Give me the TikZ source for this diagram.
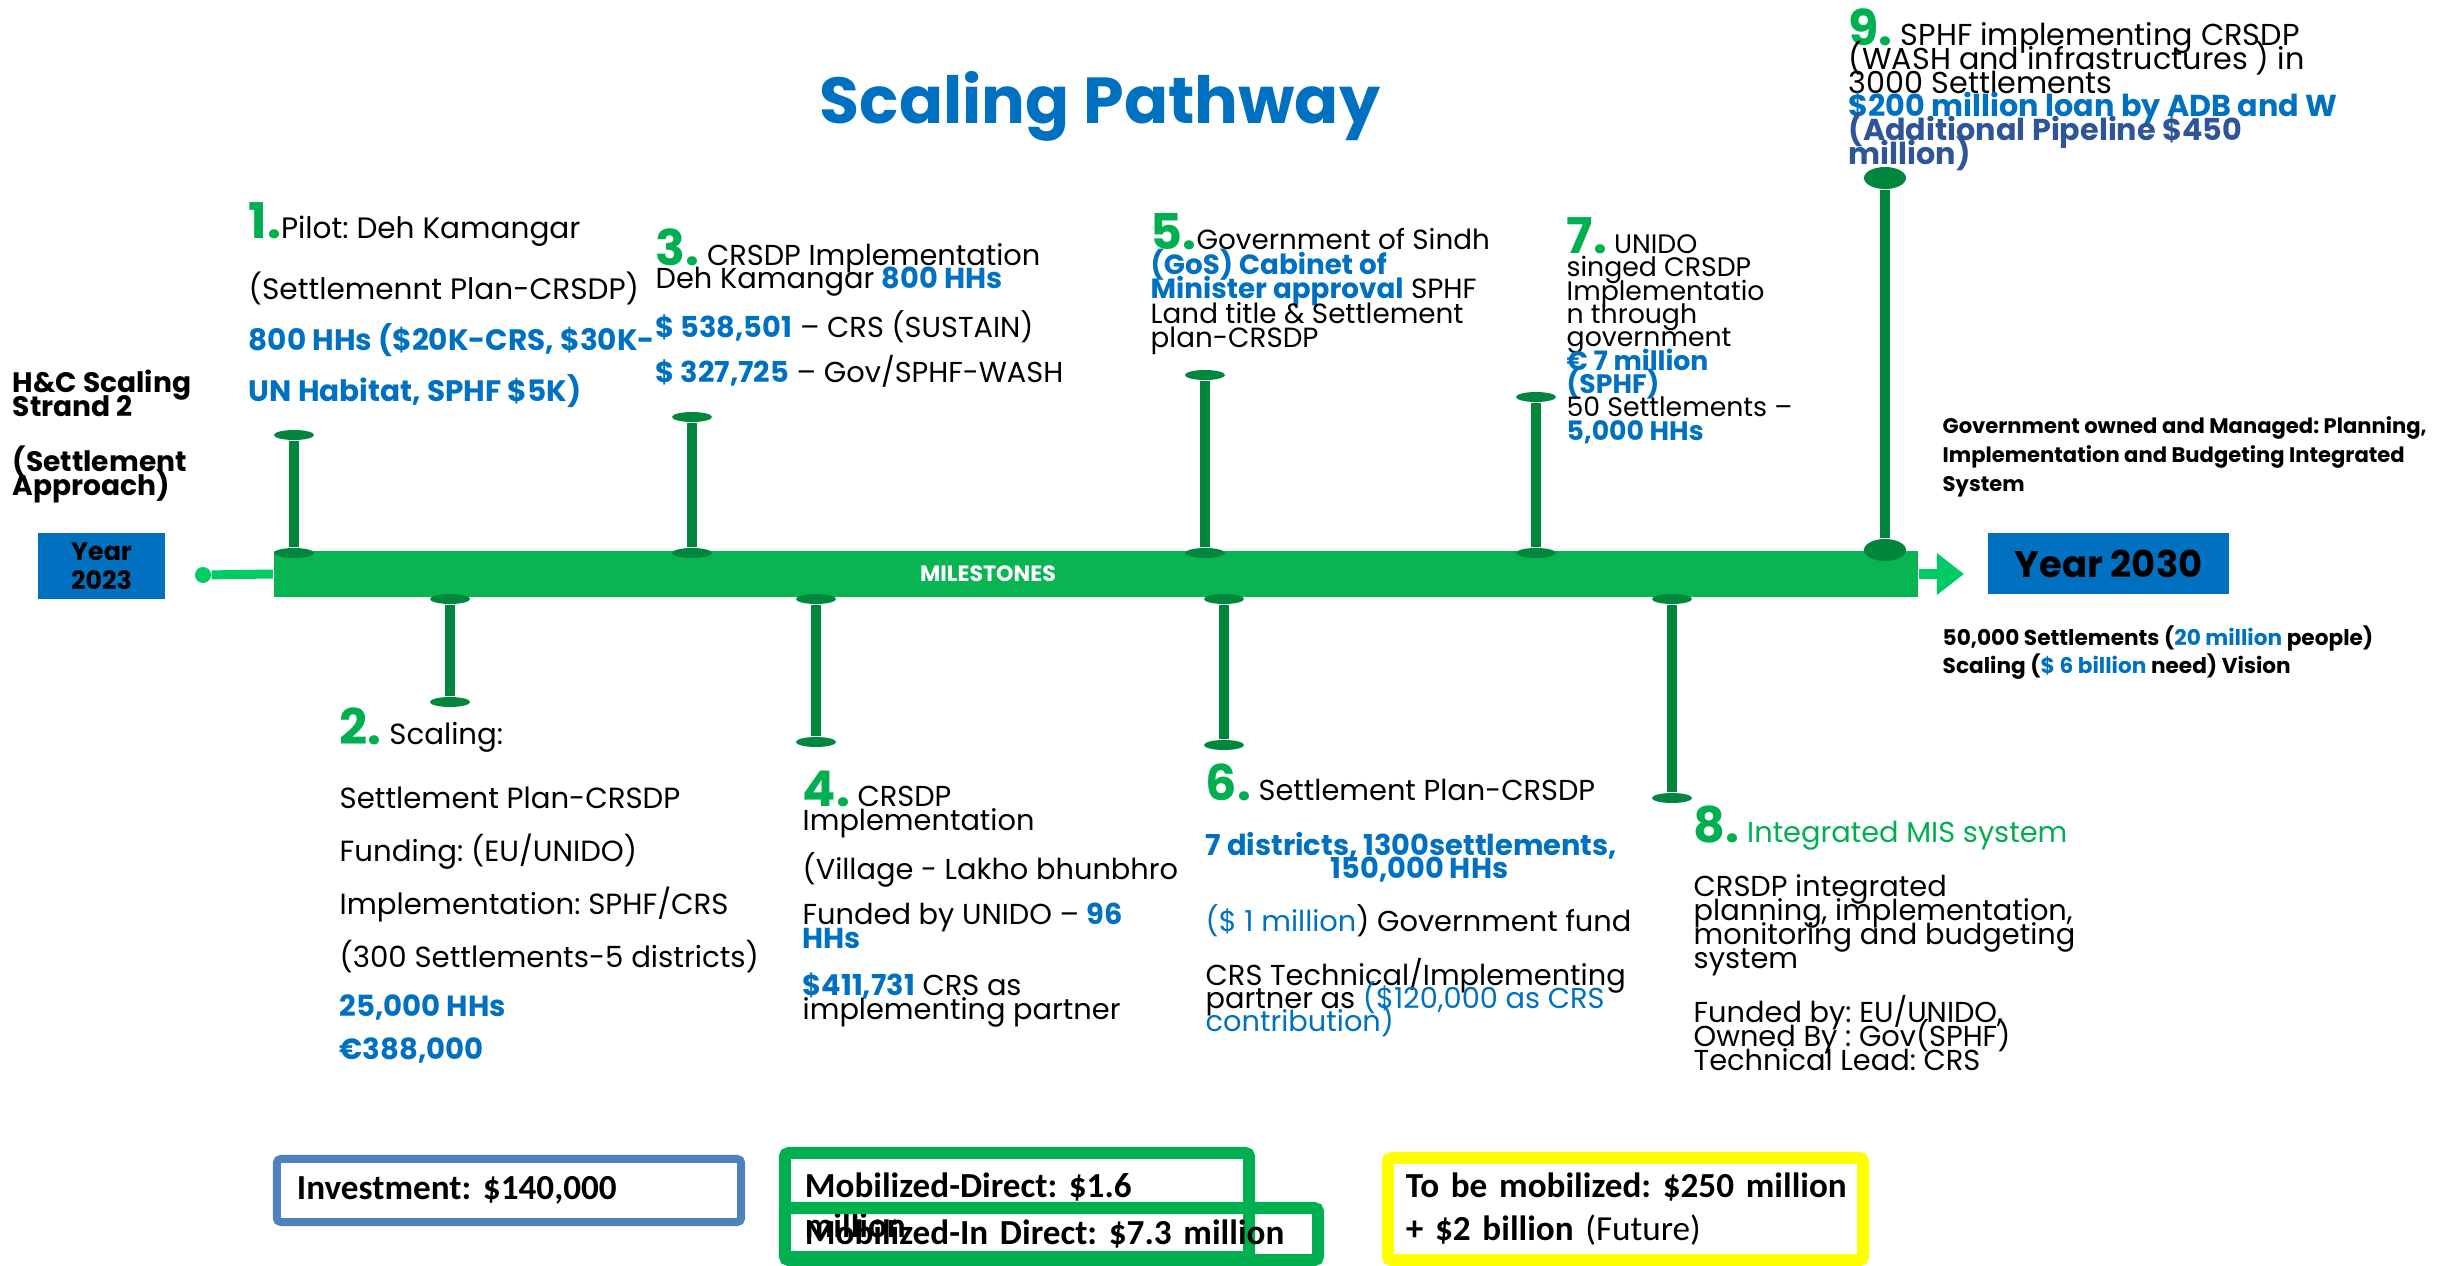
\documentclass[tikz,border=0pt]{standalone}
\usepackage{fontspec}
\setmainfont{Poppins}
\newfontfamily\boxfont{Carlito}
\usepackage{xcolor}
\usetikzlibrary{arrows.meta, positioning, shapes.geometric}
\frenchspacing

\definecolor{hcblue}{HTML}{0070C0}
\definecolor{hcgreen}{HTML}{00B050}
\definecolor{hcbar}{HTML}{09B552}
\definecolor{hcstem}{HTML}{00873D}
\definecolor{hcline}{HTML}{00CC66}
\definecolor{hcslate}{HTML}{2F5597}
\definecolor{frameblue}{HTML}{4F81BD}
\definecolor{framegreen}{HTML}{00B050}
\definecolor{frameyellow}{HTML}{FFFF00}

\newcommand{\bluebold}[1]{{\color{hcblue}\bfseries #1}}
\newcommand{\bluetxt}[1]{{\color{hcblue}#1}}
\newcommand{\mnum}[1]{{\color{hcgreen}\fontsize{14}{14}\selectfont\bfseries #1}}
\newcommand{\mfont}[2]{\fontsize{#1}{#2}\selectfont\lineskiplimit=-100pt\relax}

\begin{document}
\begin{tikzpicture}[
  x=0.01cm, y=-0.01cm,
  milestone/.style={anchor=north west, inner sep=0pt, align=left},
  yearbox/.style={fill=hcblue, inner sep=0pt, align=center, text=black},
  stemcap/.style={ellipse, fill=hcstem, inner sep=0pt, minimum width=0.40cm, minimum height=0.10cm},
  stem/.style={hcstem, line width=0.10cm},
  lead/.style={hcline, line width=0.09cm},
  arrow/.style={-{Triangle[length=0.27cm, width=0.40cm]}, hcline, line width=0.10cm},
  fundbox/.style={draw, rounded corners=0.04cm, inner sep=0pt, align=left,
                  font=\boxfont\mfont{10}{0.40cm}\bfseries}
]
  \useasboundingbox (0,0) rectangle (2453,1266);

  %% Title
  \node[font=\fontsize{18.5}{20}\selectfont\bfseries, text=hcblue, anchor=base] (title) at (1100,123) {Scaling Pathway};

  %% Strand label and years
  \node[milestone, font=\mfont{8.0}{0.24cm}\bfseries] (strand) at (12,369)
    {H\&C Scaling\\ Strand 2\\[0.31cm] (Settlement\\ Approach)};
  \node[yearbox, minimum width=1.27cm, minimum height=0.66cm, font=\mfont{7.2}{0.29cm}\bfseries] (y2023) at (101.5,566) {Year\\2023};
  \node[yearbox, minimum width=2.41cm, minimum height=0.61cm, font=\fontsize{10.5}{12}\selectfont\bfseries] (y2030) at (2108.5,563.5) {Year 2030};

  %% Timeline
  \node[fill=hcbar, inner sep=0pt, minimum width=16.44cm, minimum height=0.46cm] (bar) at (1096,574) {};
  \node[font=\fontsize{6.3}{7}\selectfont\bfseries, text=white] (mlabel) at (988,574) {MILESTONES};
  \node[circle, fill=hcline, inner sep=0pt, minimum size=0.16cm] (dot) at (203,575) {};
  \coordinate (tip) at (1964,574);
  \draw[lead] (dot) -- (bar.west);
  \draw[arrow] (bar.east) -- (tip);

  %% Stems above and below the bar
  \foreach \i/\x/\y in {1/294/435, 3/692/417, 5/1205/375, 7/1536/397} {
    \node[stemcap] (top\i) at (\x,\y) {};
    \node[stemcap] (foot\i) at (\x,553) {};
    \draw[stem] (foot\i) -- (top\i);
  }
  \foreach \i/\x/\y in {2/450/702, 4/816/742, 6/1224/745, 8/1672/798} {
    \node[stemcap] (top\i) at (\x,599) {};
    \node[stemcap] (foot\i) at (\x,\y) {};
    \draw[stem] (top\i) -- (foot\i);
  }
  \node[stemcap, minimum width=0.42cm, minimum height=0.22cm] (top9) at (1885,178) {};
  \node[stemcap, minimum width=0.42cm, minimum height=0.22cm] (foot9) at (1885,550) {};
  \draw[stem] (foot9) -- (top9);

  %% Milestones above
  \node[milestone, font=\mfont{8.4}{0.51cm}] (m1) at (248,202)
    {\mnum{1.}Pilot: Deh Kamangar\\[0.10cm] (Settlemennt Plan-CRSDP)\\
     \bluebold{800 HHs (\$20K-CRS, \$30K-}\\ \bluebold{UN Habitat, SPHF \$5K)}};
  \node[milestone, font=\mfont{8.2}{0.23cm}] (m3) at (655,228)
    {\mnum{3.} CRSDP Implementation\\ Deh Kamangar \bluebold{800 HHs}\\[0.26cm]
     \bluebold{\$ 538,501} – CRS (SUSTAIN)\\[0.22cm] \bluebold{\$ 327,725} – Gov/SPHF-WASH};
  \node[milestone, font=\mfont{7.9}{0.245cm}] (m5) at (1150,213)
    {\mnum{5.}Government of Sindh\\ \bluebold{(GoS) Cabinet of}\\ \bluebold{Minister approval} SPHF\\
     Land title \& Settlement\\ plan-CRSDP};
  \node[milestone, font=\mfont{7.6}{0.233cm}] (m7) at (1566,217)
    {\mnum{7.} UNIDO\\ singed CRSDP\\ Implementatio\\ n through\\ government\\
     \bluebold{€ 7 million}\\ \bluebold{(SPHF)}\\ 50 Settlements –\\ \bluebold{5,000 HHs}};
  \node[milestone, font=\mfont{8.6}{0.238cm}] (m9) at (1848,8)
    {\mnum{9.} SPHF implementing CRSDP\\ (WASH and infrastructures ) in\\ 3000 Settlements\\
     \bluebold{\$200 million loan by ADB and W}\\ {\color{hcslate}\bfseries (Additional Pipeline \$450}\\
     {\color{hcslate}\bfseries million)}};

  %% Milestones below
  \node[milestone, font=\mfont{8.3}{0.53cm}] (m2) at (339,707)
    {\mnum{2.} Scaling:\\[0.11cm] Settlement Plan-CRSDP\\ Funding: (EU/UNIDO)\\ Implementation: SPHF/CRS\\
     (300 Settlements-5 districts)\\[-0.04cm] \bluebold{25,000 HHs}\\[-0.10cm] \bluebold{€388,000}};
  \node[milestone, font=\mfont{8.2}{0.24cm}] (m4) at (802,770)
    {\mnum{4.} CRSDP\\ Implementation\\[0.25cm] (Village - Lakho bhunbhro\\[0.21cm]
     Funded by UNIDO – \bluebold{96}\\ \bluebold{HHs}\\[0.23cm] \bluebold{\$411,731} CRS as\\ implementing partner};
  \node[milestone, font=\mfont{8.2}{0.23cm}] (m6) at (1205,763)
    {\mnum{6.} Settlement Plan-CRSDP\\[0.32cm] \bluebold{7 districts, 1300settlements,}\\
     \hspace*{1.25cm}\bluebold{150,000 HHs}\\[0.30cm] \bluetxt{(\$ 1 million}) Government fund\\[0.31cm]
     CRS Technical/Implementing\\ partner as \bluetxt{(\$120,000 as CRS}\\ \bluetxt{contribution)}};
  \node[milestone, font=\mfont{8.2}{0.24cm}] (m8) at (1693,805)
    {\mnum{8.} {\color{hcgreen}Integrated MIS system}\\[0.30cm] CRSDP integrated\\ planning, implementation,\\
     monitoring and budgeting\\ system\\[0.30cm] Funded by: EU/UNIDO,\\ Owned By : Gov(SPHF)\\ Technical Lead: CRS};

  %% Vision notes
  \node[milestone, font=\mfont{6.0}{0.29cm}\bfseries] (govnote) at (1942,416)
    {Government owned and Managed: Planning,\\ Implementation and Budgeting Integrated\\ System};
  \node[milestone, font=\mfont{6.15}{0.28cm}\bfseries] (vision) at (1942,625)
    {50,000 Settlements ({\color{hcblue}20 million} people)\\ Scaling ({\color{hcblue}\$ 6 billion} need) Vision};

  %% Funding boxes
  \node[fundbox, draw=frameblue, line width=0.08cm, minimum width=4.64cm, minimum height=0.63cm,
        text width=4.24cm] (invest) at (509,1190.5) {\mbox{Investment: \$140,000}};
  \node[fundbox, draw=framegreen, line width=0.12cm, minimum width=4.64cm, minimum height=1.04cm,
        text width=4.24cm] (direct) at (1017,1205) {\mbox{Mobilized-Direct: \$1.6}\\ \mbox{million}};
  \node[fundbox, draw=framegreen, line width=0.12cm, minimum width=5.33cm, minimum height=0.52cm,
        text width=4.93cm] (indirect) at (1051.5,1234) {\raisebox{-0.06cm}{Mobilized-In Direct: \$7.3 million}};
  \node[fundbox, draw=frameyellow, line width=0.12cm, minimum width=4.75cm, minimum height=1.02cm,
        text width=4.39cm, font=\boxfont\mfont{10}{0.43cm}\bfseries] (future) at (1625.5,1209)
    {\raisebox{-0.03cm}{To be mobilized: \$250 million}\\ \raisebox{-0.03cm}{+ \$2 billion {\mdseries (Future)}}};
\end{tikzpicture}
\end{document}
